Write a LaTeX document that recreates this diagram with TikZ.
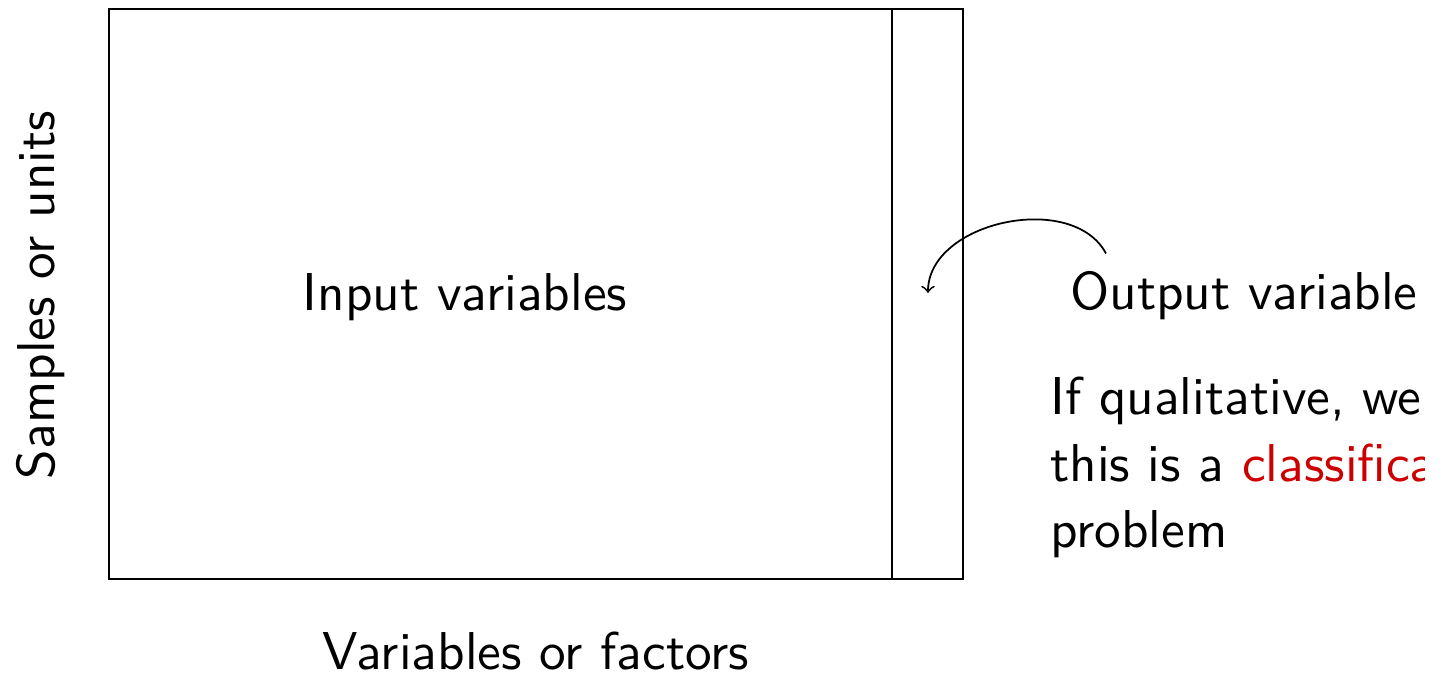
\documentclass[tikz,border=0pt]{standalone}
\usepackage{tikz}
\usetikzlibrary{positioning}
\definecolor{alertred}{RGB}{204,0,0}
\tikzset{lbl/.style={font=\sffamily\fontsize{10}{12.5}\selectfont,inner sep=0pt,scale=1.515,transform shape}}

\begin{document}
\begin{tikzpicture}[x=0.01cm,y=0.01cm,line width=0.5pt,>=to]
  \useasboundingbox (0,0) rectangle (1447,677);
  \clip (0,0) rectangle (1424,677);
  \draw (109,98) rectangle (963,668);
  \draw (892,98) -- (892,668);
  \coordinate (target) at (928,384);
  \node[lbl,anchor=base] (input) at (465,366) {Input variables};
  \node[lbl,anchor=base,rotate=90] (samples) at (55,382) {Samples or units};
  \node[lbl,anchor=base] (vars) at (536,7) {Variables or factors};
  \node[lbl,anchor=base west] (output) at (1069,367) {Output variable};
  \node[lbl,anchor=base west,align=left] (qual) at (1049,129)
    {If qualitative, we\\this is a \textcolor{alertred}{classification}\\problem};
  \draw[->] ([shift={(37,17)}]output.north west) to[out=118,in=90] (target);
\end{tikzpicture}
\end{document}
